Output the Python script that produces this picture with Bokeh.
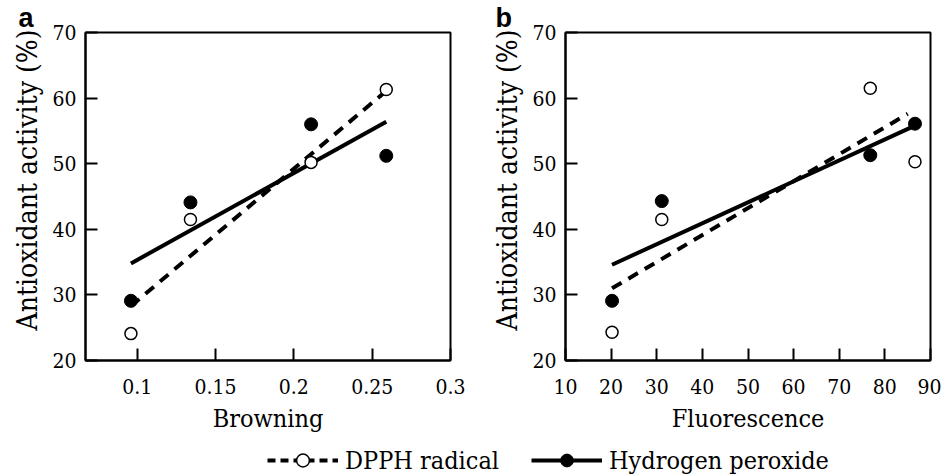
import math
from bokeh.plotting import figure
from bokeh.layouts import row, column
from bokeh.models import Range1d, FixedTicker, Title, Legend, LegendItem
from bokeh.embed import file_html
from bokeh.resources import INLINE

# ---------------- data ----------------
browning = [0.096, 0.134, 0.211, 0.259]
dpph_a = [24.1, 41.5, 50.2, 61.3]
h2o2_a = [29.1, 44.1, 56.0, 51.2]

fluorescence = [20.2, 31.1, 76.8, 86.6]
dpph_b = [24.3, 41.5, 61.5, 50.3]
h2o2_b = [29.1, 44.3, 51.3, 56.1]

# fitted trend lines (end points)
fit_a_x = [0.096, 0.259]
fit_a_dpph = [28.3, 61.1]
fit_a_h2o2 = [34.8, 56.4]
fit_b_x_dpph = [20.2, 85.0]
fit_b_dpph = [31.0, 57.6]
fit_b_x_h2o2 = [20.2, 86.6]
fit_b_h2o2 = [34.6, 55.8]

xa_ticks = [0.1, 0.15, 0.2, 0.25, 0.3]
xa_labels = ["0.1", "0.15", "0.2", "0.25", "0.3"]
xb_ticks = [10, 20, 30, 40, 50, 60, 70, 80, 90]
xb_labels = ["10", "20", "30", "40", "50", "60", "70", "80", "90"]
y_ticks = [20, 30, 40, 50, 60, 70]
y_labels = ["20", "30", "40", "50", "60", "70"]
y_title = "Antioxidant activity (%)"

SERIF = "DejaVu Serif Condensed, DejaVu Serif"
SANS = "Liberation Sans"

TOP, FRAME_H, BOTTOM = 30, 330, 80
LEGEND_H = 475 - (TOP + FRAME_H + BOTTOM)


def make_panel(width, left, right, xr, xt, xl, xlabel, letter, letter_offset):
    p = figure(width=width, height=TOP + FRAME_H + BOTTOM, x_range=xr, y_range=Range1d(20, 70),
               output_backend="svg", toolbar_location=None, title=None,
               min_border_left=left, min_border_right=right,
               min_border_top=TOP, min_border_bottom=BOTTOM)
    p.background_fill_color = "white"
    p.border_fill_color = "white"
    p.outline_line_color = "black"
    p.outline_line_width = 2
    p.xgrid.visible = False
    p.ygrid.visible = False

    p.xaxis.ticker = FixedTicker(ticks=xt)
    p.xaxis.major_label_overrides = dict(zip(xt, xl))
    p.yaxis.ticker = FixedTicker(ticks=y_ticks)
    p.yaxis.major_label_overrides = dict(zip(y_ticks, y_labels))
    for ax in (p.xaxis[0], p.yaxis[0]):
        ax.major_tick_in = 12
        ax.major_tick_out = 0
        ax.minor_tick_line_color = None
        ax.axis_line_width = 2
        ax.axis_line_color = "black"
        ax.major_tick_line_width = 2
        ax.major_tick_line_color = "black"
        ax.major_label_text_font = SERIF
        ax.major_label_text_font_size = "21px"
        ax.major_label_text_color = "black"
        ax.axis_label_text_font = SERIF
        ax.axis_label_text_font_style = "normal"
        ax.axis_label_text_color = "black"
    p.xaxis.axis_label = xlabel
    p.xaxis.axis_label_text_font_size = "25px"
    p.xaxis.major_label_standoff = 18
    p.xaxis.axis_label_standoff = 7
    p.yaxis.major_label_standoff = 9

    # y-axis title (placed as a side title so it can sit where the original has it)
    p.add_layout(Title(text=y_title, align="left", offset=30, standoff=12,
                       text_font=SERIF, text_font_size="28px", text_font_style="normal",
                       text_color="black"), "left")
    # panel letter
    p.add_layout(Title(text=letter, align="left", offset=letter_offset, standoff=0,
                       text_font=SANS, text_font_style="bold", text_font_size="27px",
                       text_color="black"), "above")
    return p


pa = make_panel(470, 85, 20, Range1d(0.067, 0.3), xa_ticks, xa_labels, "Browning", "a", -67)
pa.line(fit_a_x, fit_a_dpph, line_color="black", line_width=4, line_dash="11 8")
pa.line(fit_a_x, fit_a_h2o2, line_color="black", line_width=4)
pa.scatter(browning, dpph_a, marker="circle", size=12, fill_color="white",
           line_color="black", line_width=1.5)
pa.scatter(browning, h2o2_a, marker="circle", size=13, fill_color="black",
           line_color="black")

pb = make_panel(471, 95, 11, Range1d(10, 90), xb_ticks, xb_labels, "Fluorescence", "b", -70)
pb.line(fit_b_x_dpph, fit_b_dpph, line_color="black", line_width=4, line_dash="11 8")
pb.line(fit_b_x_h2o2, fit_b_h2o2, line_color="black", line_width=4)
pb.scatter(fluorescence, dpph_b, marker="circle", size=12, fill_color="white",
           line_color="black", line_width=1.5)
pb.scatter(fluorescence, h2o2_b, marker="circle", size=13, fill_color="black",
           line_color="black")

# ---------------- shared legend strip ----------------
nan = [math.nan]
pl = figure(width=941, height=LEGEND_H, x_range=Range1d(0, 1), y_range=Range1d(0, 1),
            output_backend="svg", toolbar_location=None, title=None, min_border=0,
            x_axis_location=None, y_axis_location=None)
pl.outline_line_color = None
pl.grid.visible = False
r1 = pl.line(x=nan, y=nan, line_color="black", line_width=4, line_dash="8 5")
r2 = pl.scatter(x=nan, y=nan, marker="circle", size=10, fill_color="white",
                line_color="black", line_width=1.5)
r3 = pl.line(x=nan, y=nan, line_color="black", line_width=4)
r4 = pl.scatter(x=nan, y=nan, marker="circle", size=12, fill_color="black",
                line_color="black")
legend = Legend(items=[LegendItem(label="DPPH radical", renderers=[r1, r2]),
                       LegendItem(label="Hydrogen peroxide", renderers=[r3, r4])],
                orientation="horizontal", location=(267, -1),
                glyph_width=71, glyph_height=32, label_height=32,
                label_standoff=7, spacing=32, padding=0, margin=0,
                border_line_color=None, background_fill_alpha=0,
                label_text_font=SERIF, label_text_font_size="25px",
                label_text_color="black")
pl.add_layout(legend, "center")

layout = column(row(pa, pb), pl)
open("out.html", "w").write(file_html(layout, INLINE))
